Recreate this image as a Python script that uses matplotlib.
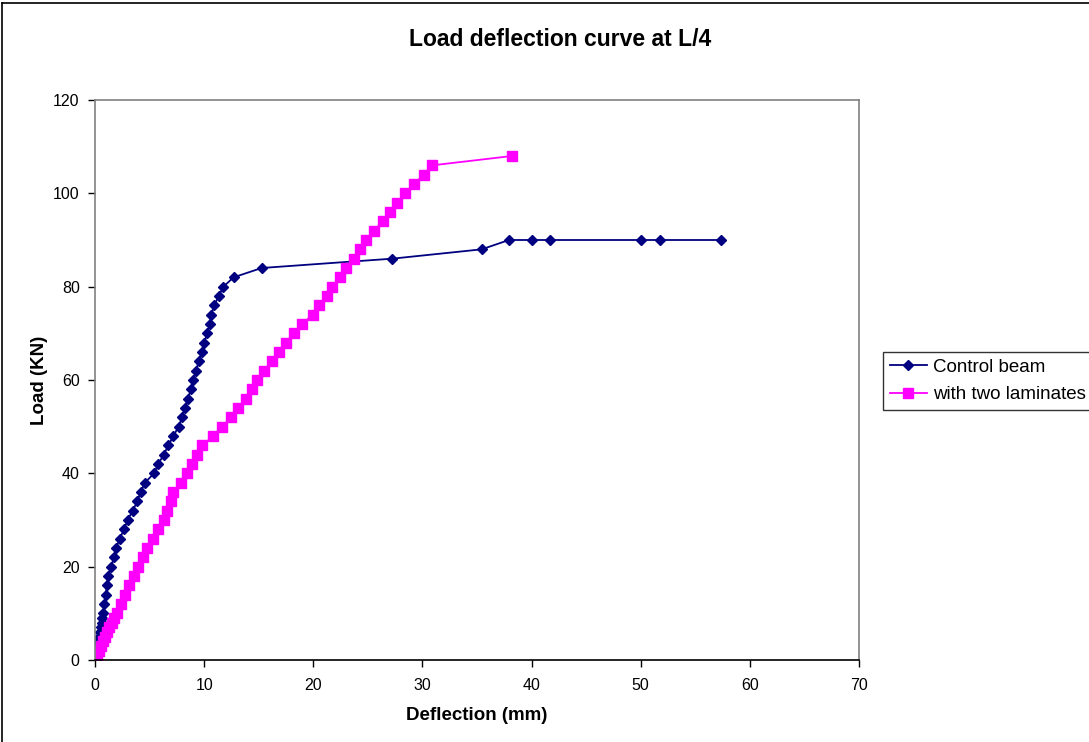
import matplotlib
matplotlib.use("Agg")
import matplotlib.pyplot as plt
from matplotlib.lines import Line2D

plt.rcParams['font.family'] = ['Liberation Sans', 'DejaVu Sans']

# Control beam
control_load = [0, 1, 2, 3, 4, 5, 6, 7, 8, 9, 10,
                12, 14, 16, 18, 20, 22, 24, 26, 28, 30,
                32, 34, 36, 38, 40, 42, 44, 46, 48, 50,
                52, 54, 56, 58, 60, 62, 64, 66, 68, 70,
                72, 74, 76, 78, 80, 82, 84, 86, 88,
                90, 90, 90, 90, 90, 90]
control_defl = [0, 0.08, 0.15, 0.23, 0.30, 0.38, 0.45, 0.53, 0.60, 0.68, 0.76,
                0.85, 0.98, 1.10, 1.22, 1.47, 1.74, 1.95, 2.26, 2.66, 2.99,
                3.45, 3.88, 4.18, 4.58, 5.41, 5.80, 6.29, 6.72, 7.18, 7.66,
                7.97, 8.22, 8.49, 8.80, 9.01, 9.25, 9.50, 9.77, 9.99, 10.29,
                10.52, 10.64, 10.93, 11.33, 11.76, 12.70, 15.27, 27.24, 35.43,
                37.93, 40.0, 41.7, 50.0, 51.8, 57.36]

# Beam with two laminates
lam_load = [0, 1, 2, 3, 4, 5, 6, 7, 8, 9, 10,
            12, 14, 16, 18, 20, 22, 24, 26, 28, 30,
            32, 34, 36, 38, 40, 42, 44, 46, 48, 50,
            52, 54, 56, 58, 60, 62, 64, 66, 68, 70,
            72, 74, 76, 78, 80, 82, 84, 86, 88, 90,
            92, 94, 96, 98, 100, 102, 104, 106, 108]
lam_defl = [0, 0.20, 0.38, 0.55, 0.72, 0.90, 1.08, 1.28, 1.52, 1.77, 2.00,
            2.35, 2.75, 3.15, 3.57, 3.97, 4.43, 4.79, 5.31, 5.80, 6.32,
            6.56, 6.93, 7.15, 7.85, 8.46, 8.86, 9.31, 9.83, 10.84, 11.67,
            12.43, 13.13, 13.84, 14.41, 14.87, 15.51, 16.19, 16.86, 17.47, 18.23,
            18.99, 19.94, 20.52, 21.23, 21.74, 22.48, 22.97, 23.70, 24.25, 24.83,
            25.56, 26.39, 27.06, 27.70, 28.43, 29.26, 30.10, 30.90, 38.20]

fig = plt.figure(figsize=(10.89, 7.42), dpi=100)
W, H = 1089.0, 742.0
ax = fig.add_axes([95 / W, 1 - 660 / H, (859 - 95) / W, (660 - 100) / H])

ax.plot(control_defl, control_load, color='#000080', lw=1.3, marker='D',
        ms=5.5, mec='#000080', mfc='#000080', label='Control beam')
ax.plot(lam_defl, lam_load, color='#FF00FF', lw=1.3, marker='s',
        ms=6.5, mec='#FF00FF', mfc='#FF00FF', label='with two laminates')

ax.set_xlim(0, 70)
ax.set_ylim(0, 120)
ax.set_xticks(range(0, 71, 10))
ax.set_yticks(range(0, 121, 20))
ax.tick_params(direction='out', length=5, width=1, labelsize=11.5, colors='black')
ax.tick_params(axis='x', pad=8)
ax.tick_params(axis='y', pad=6)
ax.spines['top'].set_color('#808080')
ax.spines['right'].set_color('#808080')
ax.spines['left'].set_color('#808080')
ax.spines['bottom'].set_color('black')
for s in ax.spines.values():
    s.set_linewidth(1.2)

ax.set_xlabel('Deflection (mm)', fontsize=13.5, fontweight='bold')
ax.set_ylabel('Load (KN)', fontsize=13.5, fontweight='bold')
ax.xaxis.set_label_coords((477 - 95) / 764, -(716 - 660) / 560)
ax.yaxis.set_label_coords(-(95 - 40) / 764, (660 - 380) / 560)
ax.xaxis.label.set_va('center')
ax.yaxis.label.set_va('center')

fig.text(560 / W, 1 - 40 / H, 'Load deflection curve at L/4', ha='center',
         va='center', fontsize=16.5, fontweight='bold')

leg = ax.legend(loc='upper left', bbox_to_anchor=(883 / W, 1 - 352 / H),
                bbox_transform=fig.transFigure, fontsize=13.5, frameon=True,
                fancybox=False, borderpad=0.35, handlelength=2.0,
                handletextpad=0.3, labelspacing=0.55, borderaxespad=0)
leg.get_frame().set_edgecolor('black')
leg.get_frame().set_linewidth(1.0)

# chart area border (left and top visible)
fig.add_artist(Line2D([1.5 / W, 1.5 / W], [0, 1 - 3 / H], color='black', lw=1.2,
                      transform=fig.transFigure))
fig.add_artist(Line2D([1.5 / W, 1], [1 - 3 / H, 1 - 3 / H], color='black', lw=1.2,
                      transform=fig.transFigure))

fig.savefig('out.png', dpi=100)
